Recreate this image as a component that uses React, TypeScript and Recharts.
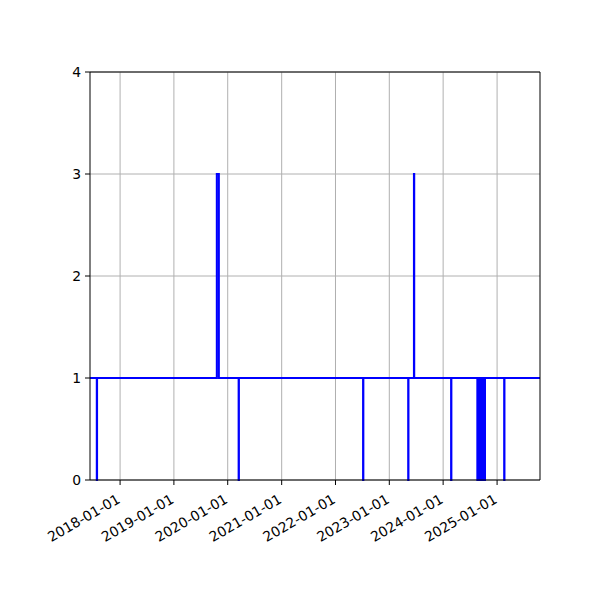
import { LineChart, Line, XAxis, YAxis, CartesianGrid, ReferenceLine } from "recharts"

// change points of the step series (value holds until the next date)
const DATES = [
  '2017-06-11', '2017-07-27', '2017-07-29',
  '2019-10-19', '2019-11-02',
  '2020-03-15', '2020-03-17',
  '2022-07-07', '2022-07-09',
  '2023-05-09', '2023-05-11',
  '2023-06-17', '2023-06-19',
  '2024-02-24', '2024-02-26',
  '2024-08-20', '2024-08-23', '2024-08-26', '2024-08-29', '2024-09-01', '2024-09-04',
  '2024-09-07', '2024-09-10', '2024-09-13', '2024-09-16', '2024-09-19', '2024-09-22',
  '2024-09-25', '2024-09-28', '2024-10-01', '2024-10-04', '2024-10-07', '2024-10-11',
  '2025-02-18', '2025-02-20',
  '2025-10-19',
]
const VALUES = [
  1, 0, 1,
  3, 1,
  0, 1,
  0, 1,
  0, 1,
  3, 1,
  0, 1,
  0, 1, 0, 1, 0, 1,
  0, 1, 0, 1, 0, 1,
  0, 1, 0, 1, 0, 1,
  0, 1,
  1,
]
const X_TICKS = ['2018-01-01', '2019-01-01', '2020-01-01', '2021-01-01', '2022-01-01', '2023-01-01', '2024-01-01', '2025-01-01']
const Y_TICKS = [0, 1, 2, 3, 4]
const X_DOMAIN = ['2017-06-11', '2025-10-19']

const ts = (d: string) => Date.parse(d + 'T00:00:00Z')

const data = DATES.map((d, i) => ({ t: ts(d), v: VALUES[i] }))

const FONT = 'DejaVu Sans, sans-serif'

const DateTick = (props: any) => {
  const { x, y, payload } = props
  const label = new Date(payload.value).toISOString().slice(0, 10)
  const bx = x + 1
  const by = y + 15
  return (
    <text x={bx} y={by} transform={`rotate(-30, ${bx}, ${by})`} textAnchor="end"
      fontFamily={FONT} fontSize={13.9} fill="#000">
      {label}
    </text>
  )
}

export default function App() {
  const xDomain = X_DOMAIN.map(ts)
  return (
    <div style={{ width: 592, height: 592 }}>
      <LineChart width={592} height={592} data={data}
        margin={{ top: 64, right: 60, left: 0, bottom: 60 }}>
        <CartesianGrid stroke="#b0b0b0" strokeWidth={1} horizontalValues={Y_TICKS}
          verticalValues={X_TICKS.map(ts)} />
        <XAxis dataKey="t" type="number" scale="linear" domain={xDomain}
          ticks={X_TICKS.map(ts)} tick={<DateTick />} height={60} interval={0}
          stroke="#000" tickSize={5} allowDataOverflow />
        <YAxis type="number" domain={[0, 4]} ticks={Y_TICKS} width={82} interval={0}
          stroke="#000" tickSize={5} tickMargin={4}
          tick={{ fill: '#000', fontFamily: FONT, fontSize: 13.9 }} />
        <Line type="stepAfter" dataKey="v" stroke="#0000ff" strokeWidth={2}
          dot={false} isAnimationActive={false} />
        <ReferenceLine y={4} stroke="#000" strokeWidth={1} />
        <ReferenceLine x={xDomain[1]} stroke="#000" strokeWidth={1} />
      </LineChart>
    </div>
  )
}
